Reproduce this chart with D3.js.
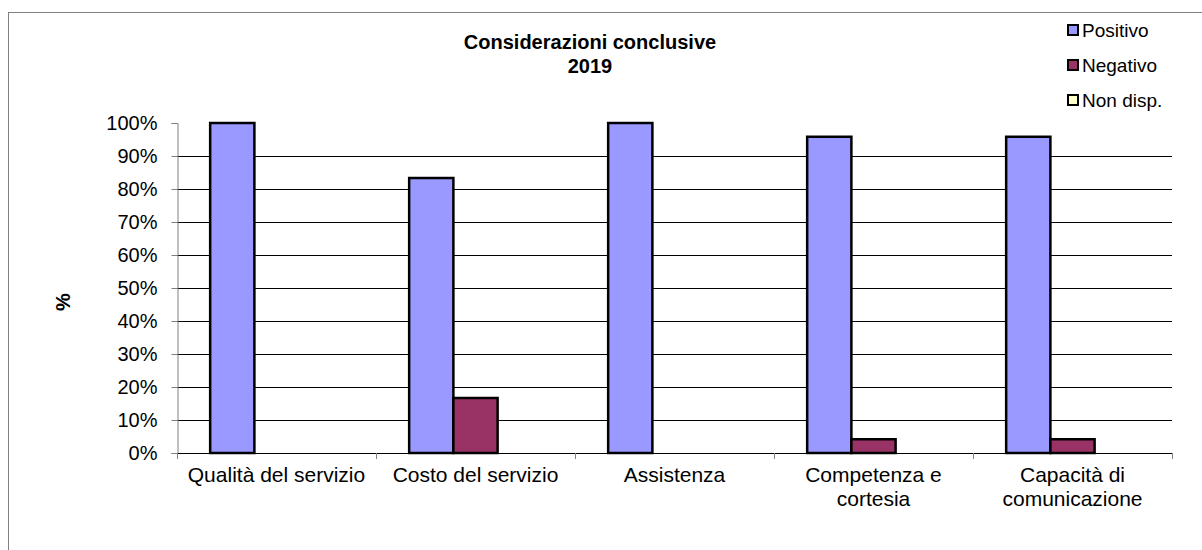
<!DOCTYPE html>
<html>
<head>
<meta charset="utf-8">
<script src="https://cdn.jsdelivr.net/npm/d3@7"></script>
<style>
  html, body { margin: 0; padding: 0; background: #fff; }
  svg { display: block; font-family: Arial, "Liberation Sans", sans-serif; }
</style>
</head>
<body>
<svg id="chart" width="1202" height="550"></svg>
<script>
const categories = [
  ["Qualità del servizio"],
  ["Costo del servizio"],
  ["Assistenza"],
  ["Competenza e", "cortesia"],
  ["Capacità di", "comunicazione"]
];
const seriesNames = ["Positivo", "Negativo", "Non disp."];
const seriesColors = ["#9999FF", "#993366", "#FFFFCC"];
const positivo = [100, 83.33, 100, 95.83, 95.83];
const negativo = [0, 16.67, 0, 4.17, 4.17];
const nonDisp = [0, 0, 0, 0, 0];
const yTicks = [0, 10, 20, 30, 40, 50, 60, 70, 80, 90, 100];
const titleLines = ["Considerazioni conclusive", "2019"];
const yLabel = "%";

const seriesValues = [positivo, negativo, nonDisp];
const svg = d3.select("#chart");

// outer frame
svg.append("rect")
  .attr("x", 8.5).attr("y", 12.5)
  .attr("width", 1300).attr("height", 700)
  .attr("fill", "none").attr("stroke", "#808080").attr("stroke-width", 1);

const plot = { left: 177, right: 1172, top: 123, bottom: 453 };

const x = d3.scaleBand()
  .domain(d3.range(categories.length))
  .range([plot.left, plot.right])
  .padding(0);

const xInner = d3.scaleBand()
  .domain(d3.range(seriesNames.length))
  .range([0, x.bandwidth()])
  .paddingInner(0)
  .paddingOuter(0.75);

const y = d3.scaleLinear().domain([0, 100]).range([plot.bottom, plot.top]);

// gridlines (not at top)
svg.append("g")
  .selectAll("line")
  .data(yTicks.filter(t => t > 0 && t < 100))
  .join("line")
  .attr("x1", plot.left).attr("x2", plot.right)
  .attr("y1", d => Math.round(y(d)) + 0.5).attr("y2", d => Math.round(y(d)) + 0.5)
  .attr("stroke", "#000").attr("stroke-width", 1);

// y axis
const yAxis = d3.axisLeft(y)
  .tickValues(yTicks)
  .tickFormat(d => d + "%")
  .tickSize(6)
  .tickPadding(14);
const gy = svg.append("g")
  .attr("transform", `translate(${plot.left + 0.5},0)`)
  .call(yAxis);
gy.select(".domain").attr("stroke", "#808080");
gy.selectAll(".tick line").attr("stroke", "#808080");
gy.selectAll(".tick text")
  .attr("font-size", 20)
  .attr("fill", "#000")
  .attr("font-family", "Arial, 'Liberation Sans', sans-serif");

// bars
const groups = svg.append("g")
  .selectAll("g")
  .data(categories.map((c, i) => i))
  .join("g")
  .attr("transform", i => `translate(${x(i)},0)`);

groups.selectAll("rect")
  .data(i => seriesValues.map((vals, s) => ({ s, v: vals[i] })).filter(d => d.v > 0))
  .join("rect")
  .attr("x", d => xInner(d.s))
  .attr("width", xInner.bandwidth())
  .attr("y", d => y(d.v))
  .attr("height", d => y(0) - y(d.v))
  .attr("fill", d => seriesColors[d.s])
  .attr("stroke", "#000")
  .attr("stroke-width", 2.5);

// x axis
const xAxisG = svg.append("g");
xAxisG.append("line")
  .attr("x1", plot.left).attr("x2", plot.right)
  .attr("y1", plot.bottom + 0.5).attr("y2", plot.bottom + 0.5)
  .attr("stroke", "#000");
xAxisG.selectAll("line.tk")
  .data(d3.range(categories.length + 1))
  .join("line")
  .attr("class", "tk")
  .attr("x1", i => Math.round(plot.left + i * x.step()) + 0.5)
  .attr("x2", i => Math.round(plot.left + i * x.step()) + 0.5)
  .attr("y1", plot.bottom).attr("y2", plot.bottom + 6)
  .attr("stroke", "#808080");

xAxisG.selectAll("text.cat")
  .data(categories)
  .join("text")
  .attr("class", "cat")
  .attr("x", (d, i) => x(i) + x.bandwidth() / 2)
  .attr("y", 482)
  .attr("text-anchor", "middle")
  .attr("font-size", 21)
  .attr("fill", "#000")
  .each(function(lines) {
    const t = d3.select(this);
    lines.forEach((ln, k) => {
      t.append("tspan")
        .attr("x", t.attr("x"))
        .attr("dy", k === 0 ? 0 : 24)
        .text(ln);
    });
  });

// y label
svg.append("text")
  .attr("transform", "translate(70,302) rotate(-90)")
  .attr("text-anchor", "middle")
  .attr("font-size", 20)
  .attr("font-weight", "bold")
  .attr("fill", "#000")
  .text(yLabel);

// title
svg.append("text")
  .attr("text-anchor", "middle")
  .attr("font-size", 20)
  .attr("font-weight", "bold")
  .attr("fill", "#000")
  .selectAll("tspan")
  .data(titleLines)
  .join("tspan")
  .attr("x", 590)
  .attr("y", (d, i) => 49 + i * 24)
  .text(d => d);

// legend
const legend = svg.append("g")
  .selectAll("g")
  .data(seriesNames)
  .join("g")
  .attr("transform", (d, i) => `translate(1067,${30 + i * 35})`);
legend.append("rect")
  .attr("x", 1).attr("y", -5)
  .attr("width", 10).attr("height", 10)
  .attr("fill", (d, i) => seriesColors[i])
  .attr("stroke", "#000").attr("stroke-width", 2);
legend.append("text")
  .attr("x", 15).attr("y", 7)
  .attr("font-size", 19)
  .attr("fill", "#000")
  .text(d => d);
</script>
</body>
</html>
